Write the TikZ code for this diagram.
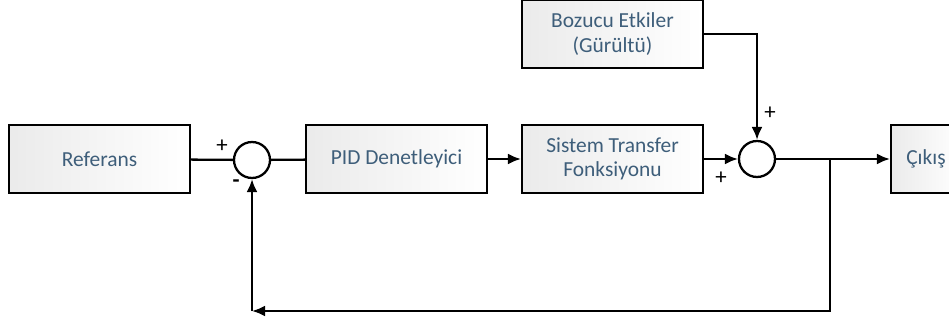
\documentclass[tikz,border=0pt]{standalone}
\usepackage{fontspec}
\setmainfont{Carlito}
\usetikzlibrary{arrows, arrows.meta, shapes}
\definecolor{txt}{RGB}{62,94,122}

\begin{document}
\begin{tikzpicture}[x=0.02cm, y=-0.02cm, line width=1.3pt, >={Latex[length=0.26cm, width=0.22cm]}]
    \tikzstyle{block} = [draw, shape=rectangle, minimum width=3.62cm, minimum height=1.36cm,
      left color=gray!16, right color=white, text=txt, align=center, font=\fontsize{12.2}{14}\selectfont]
    \tikzstyle{sum} = [draw, shape=circle, minimum size=0.72cm, inner sep=0pt, fill=white]
    \tikzstyle{sgn} = [font=\fontsize{13}{13}\selectfont]
    \useasboundingbox (0,0) rectangle (949,324);
    \clip (0,0) rectangle (949,324);
    \node (ref) [block] at (99.5, 159) {Referans};
    \node (s1) [sum] at (252, 160) {};
    \node (pid) [block] at (396.5, 159) {PID Denetleyici};
    \node (sys) [block] at (612.5, 159) {Sistem Transfer\\Fonksiyonu};
    \node (noise) [block] at (612.5, 34) {Bozucu Etkiler\\(Gürültü)};
    \node (s2) [sum] at (757, 159) {};
    \node (out) [block, minimum width=1.4cm] at (926, 159) {Çıkış};
    \coordinate (br) at (830, 159);
    \coordinate (fb) at (252, 311);
      \draw (ref) -- (s1);
      \draw (s1) -- (pid);
      \draw [->] (pid) -- (sys);
      \draw [->] (sys) -- (s2);
      \draw [->] (noise.east) -| (s2.north);
      \draw [->] (s2) -- (out);
      \draw [->] (br) |- (fb);
      \draw [->] (fb) -- (s1);
    \node [sgn] at (222, 146) {+};
    \node [sgn] at (236, 184) {\textbf{-}};
    \node [sgn] at (770, 113) {+};
    \node [sgn] at (721, 178) {+};
  \end{tikzpicture}
\end{document}
